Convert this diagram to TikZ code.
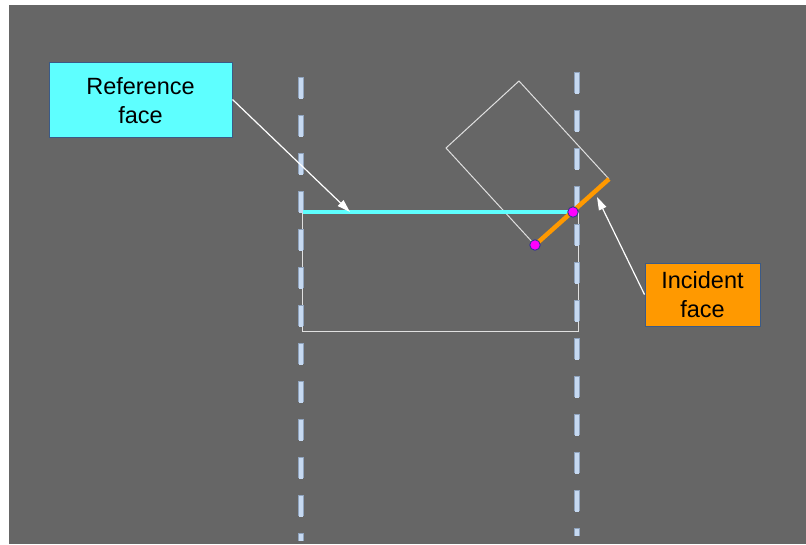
\documentclass[tikz,border=0pt]{standalone}
\usepackage{fontspec}
\setmainfont{Liberation Sans}
\usetikzlibrary{arrows.meta}
\definecolor{bg}{HTML}{666666}
\definecolor{guide}{HTML}{C6D9F1}
\definecolor{guideedge}{HTML}{8FA3BD}
\definecolor{refcyan}{HTML}{5EFFFF}
\definecolor{incorange}{HTML}{FF9900}
\definecolor{boxedge}{HTML}{3B5A86}
\definecolor{dotfill}{HTML}{FF00FF}
\definecolor{dotedge}{HTML}{2E3A8C}
\tikzset{
  guideline/.style={line width=5.5pt, guideedge, dash pattern=on 21pt off 17pt},
  guidecore/.style={line width=4pt, guide, dash pattern=on 21pt off 17pt, dash phase=-0.75pt},
  outline/.style={draw=white!88!black, line width=1pt},
  label box/.style={draw=boxedge, line width=1pt, text=black, align=center,
    font=\fontsize{23.5}{28.5}\selectfont, inner sep=0pt},
  callout/.style={draw=white, line width=1.2pt,
    -{Triangle[length=13pt,width=8pt,fill=white]}},
  contact/.style={circle, fill=dotfill, draw=dotedge, line width=0.9pt,
    minimum size=10.5pt, inner sep=0pt},
}
\begin{document}
\begin{tikzpicture}[x=1pt,y=-1pt]
  \useasboundingbox (0,0) rectangle (806,544);
  \fill[white] (0,0) rectangle (806,544);
  \fill[bg] (9,5) rectangle (806,544);

  % the fixed box (reference body)
  \draw[outline] (302,212) -- (302,331) -- (578,331) -- (578,212);

  % the tilted box (incident body)
  \draw[outline] (535,245) -- (446,148) -- (519,81) -- (609,179);

  % dashed guides
  \draw[guideline] (301,77) -- (301,541);
  \draw[guidecore] (301,77) -- (301,541);
  \draw[guideline] (577,72) -- (577,536);
  \draw[guidecore] (577,72) -- (577,536);

  % faces
  \coordinate (refL) at (303,212);
  \coordinate (refR) at (573,212);
  \coordinate (incA) at (535,245);
  \coordinate (incB) at (609,179);
  \draw[refcyan, line width=4pt] (refL) -- (refR);
  \draw[incorange, line width=4.5pt] (incA) -- (incB);
  \node[contact] (p1) at (incA) {};
  \node[contact] (p2) at (refR) {};

  % labels
  \node[label box, fill=refcyan, minimum width=183pt, minimum height=75pt,
        text depth=0pt]
    (refbox) at (140.5,99.5) {\raisebox{-1.5pt}{Reference}\\\raisebox{-1.5pt}{face}};
  \node[label box, fill=incorange, minimum width=115pt, minimum height=63pt]
    (incbox) at (702.5,294.5) {Incident\\face};

  \coordinate (refhit) at (350,212);
  \coordinate (inchit) at (597,197);
  \draw[callout] (refbox.east) -- (refhit);
  \draw[callout] (incbox.west) -- (inchit);
\end{tikzpicture}
\end{document}
